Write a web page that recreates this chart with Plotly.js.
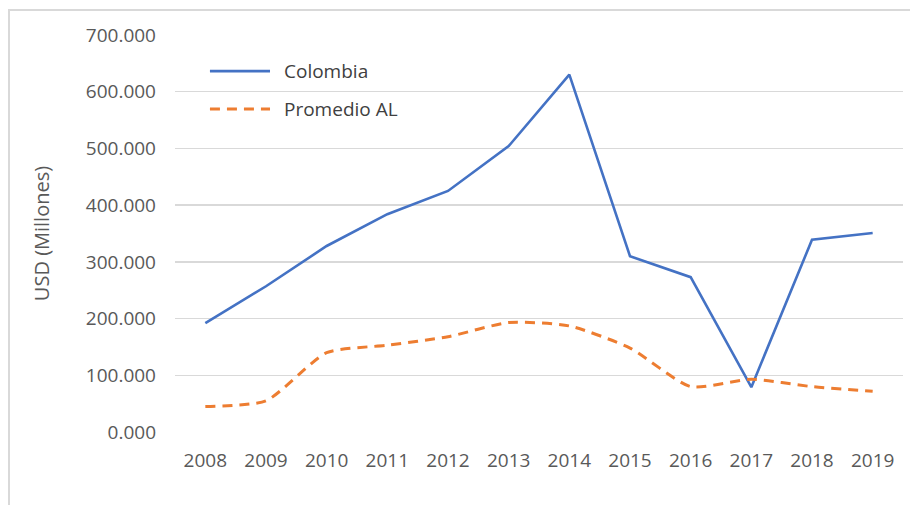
<!DOCTYPE html>
<html>
<head>
<meta charset="utf-8">
<script src="https://cdn.plot.ly/plotly-3.0.1.min.js"></script>
<style>
  html, body { margin: 0; padding: 0; background: #fff; }
  #wrap { position: relative; width: 910px; height: 505px; overflow: hidden; }
  #chart { position: absolute; left: 0; top: 0; width: 910px; height: 505px; }
  #frame { position: absolute; left: 8px; top: 9px; width: 920px; height: 520px;
           border-left: 2px solid #d9d9d9; border-top: 2px solid #d9d9d9; pointer-events: none; }
</style>
</head>
<body>
<div id="wrap">
  <div id="chart"></div>
  <div id="frame"></div>
</div>
<script>
const years = ["2008","2009","2010","2011","2012","2013","2014","2015","2016","2017","2018","2019"];
const colombia = [192, 257, 328, 384, 425, 504, 630, 310, 273, 79, 339, 351];
const promedioAL = [45, 55, 140, 153, 168, 193, 187, 148, 80, 93, 80, 72];
const yTicks = [0, 100, 200, 300, 400, 500, 600, 700];
const seriesNames = ['Colombia', 'Promedio AL'];

const fontFam = '"Open Sans", "Noto Sans", sans-serif';
const blueLine = { color: '#4472C4', width: 2.6 };
const orangeLine = { color: '#ED7D31', width: 3, dash: '10px,7px' };

const traces = [
  {
    x: years, y: colombia, name: seriesNames[0], type: 'scatter', mode: 'lines',
    line: blueLine
  },
  {
    x: years, y: promedioAL, name: seriesNames[1], type: 'scatter', mode: 'lines',
    line: Object.assign({}, orangeLine, { shape: 'spline', smoothing: 0.6 })
  }
];

// Legend drawn in paper coordinates (long line samples as in the reference)
const legendRows = [0.909, 0.8136];
const legendLines = [blueLine, orangeLine];
const shapes = legendRows.map((yy, i) => ({
  type: 'line', xref: 'paper', yref: 'paper',
  x0: 0.048, x1: 0.1305, y0: yy, y1: yy,
  line: legendLines[i]
}));
const annotations = legendRows.map((yy, i) => ({
  xref: 'paper', yref: 'paper', x: 0.147, y: yy,
  xanchor: 'left', yanchor: 'middle', showarrow: false,
  text: seriesNames[i],
  font: { family: fontFam, size: 19, color: '#404040' }
}));

const layout = {
  width: 910, height: 505,
  margin: { l: 175, r: 7, t: 35, b: 73 },
  paper_bgcolor: '#ffffff', plot_bgcolor: '#ffffff',
  font: { family: fontFam, size: 19, color: '#595959' },
  showlegend: false,
  shapes: shapes,
  annotations: annotations,
  xaxis: {
    type: 'category', range: [-0.5, 11.5], showgrid: false, zeroline: false, showline: false,
    ticks: '', ticklabelstandoff: 15,
    tickfont: { family: fontFam, size: 19, color: '#595959' }
  },
  yaxis: {
    range: [0, 700], tickvals: yTicks, tickformat: '.3f',
    showgrid: true, gridcolor: '#d9d9d9', gridwidth: 1.3, zeroline: false, showline: false,
    ticks: '', ticklabelstandoff: 18,
    tickfont: { family: fontFam, size: 19, color: '#595959' },
    title: { text: 'USD (Millones)', font: { family: fontFam, size: 20, color: '#595959' }, standoff: 30 }
  }
};

Plotly.newPlot('chart', traces, layout, { displayModeBar: false, staticPlot: true });
</script>
</body>
</html>
